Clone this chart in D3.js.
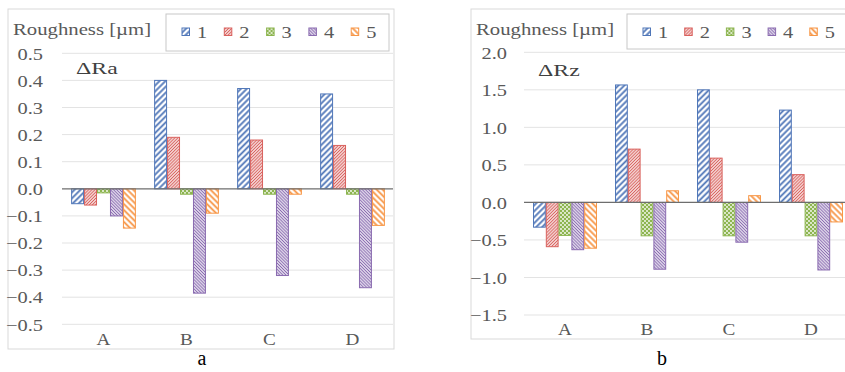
<!DOCTYPE html>
<html>
<head>
<meta charset="utf-8">
<script src="https://cdn.jsdelivr.net/npm/d3@7"></script>
<style>
  body { margin: 0; background: #fff; }
  svg text { font-family: "Liberation Serif", "Times New Roman", serif; }
</style>
</head>
<body>
<svg id="fig" width="845" height="372" font-family="Liberation Serif"></svg>
<script>
const categories = ["A", "B", "C", "D"];
const seriesNames = ["1", "2", "3", "4", "5"];

// ΔRa per series (values for A..D)
const ra1 = [-0.055, 0.40, 0.37, 0.35];
const ra2 = [-0.06, 0.19, 0.18, 0.16];
const ra3 = [-0.015, -0.02, -0.02, -0.02];
const ra4 = [-0.10, -0.385, -0.32, -0.365];
const ra5 = [-0.145, -0.09, -0.02, -0.135];

// ΔRz per series
const rz1 = [-0.33, 1.565, 1.50, 1.23];
const rz2 = [-0.59, 0.71, 0.59, 0.37];
const rz3 = [-0.44, -0.445, -0.445, -0.445];
const rz4 = [-0.63, -0.89, -0.53, -0.90];
const rz5 = [-0.61, 0.155, 0.09, -0.26];

const raTicks = [-0.5, -0.4, -0.3, -0.2, -0.1, 0, 0.1, 0.2, 0.3, 0.4, 0.5];
const rzTicks = [-1.5, -1.0, -0.5, 0, 0.5, 1.0, 1.5, 2.0];

const colors = ["#4f76b8", "#d9625e", "#8db550", "#8a6bb0", "#f79646"];
const SX = 1.2; // the figure text is stretched sideways

const svg = d3.select("#fig");
svg.append("rect").attr("width", 845).attr("height", 372).attr("fill", "#fff");

// hatch patterns
const defs = svg.append("defs");
function hatch(id, color, size, width, angle) {
  const p = defs.append("pattern")
    .attr("id", id)
    .attr("patternUnits", "userSpaceOnUse")
    .attr("width", size).attr("height", size)
    .attr("patternTransform", `rotate(${angle})`);
  p.append("rect").attr("width", size).attr("height", size).attr("fill", "#fff");
  p.append("line")
    .attr("x1", size / 2).attr("y1", 0).attr("x2", size / 2).attr("y2", size)
    .attr("stroke", color).attr("stroke-width", width);
}
hatch("p0", colors[0], 4.2, 1.8, 45);
hatch("p1", colors[1], 2.2, 1.2, 45);
hatch("p3", colors[3], 2.2, 1.2, -45);
hatch("p4", colors[4], 4.2, 1.8, -45);
const dots = defs.append("pattern")
  .attr("id", "p2")
  .attr("patternUnits", "userSpaceOnUse")
  .attr("width", 4).attr("height", 4);
dots.append("rect").attr("width", 4).attr("height", 4).attr("fill", colors[2]);
dots.append("circle").attr("cx", 1).attr("cy", 1).attr("r", 0.9).attr("fill", "#fff");
dots.append("circle").attr("cx", 3).attr("cy", 3).attr("r", 0.9).attr("fill", "#fff");

// text placed at (x,y) and stretched horizontally around its anchor
function label(parent, x, y, txt, size, sx, anchor, fill) {
  return parent.append("text")
    .attr("transform", `translate(${x},${y}) scale(${sx},1)`)
    .attr("text-anchor", anchor || "start")
    .attr("fill", fill || "#595959")
    .style("font-size", size + "px")
    .text(txt);
}

function drawChart(cfg) {
  const g = svg.append("g");

  // outer frame
  g.append("rect")
    .attr("x", cfg.box[0]).attr("y", cfg.box[1])
    .attr("width", cfg.box[2] - cfg.box[0]).attr("height", cfg.box[3] - cfg.box[1])
    .attr("fill", "none").attr("stroke", "#d9d9d9");

  const x0 = d3.scaleBand().domain(categories)
    .range([cfg.left, cfg.right])
    .paddingInner(0.22).paddingOuter(0.11);
  const x1 = d3.scaleBand().domain(seriesNames).range([0, x0.bandwidth()]);
  const y = d3.scaleLinear().domain(cfg.domain).range([cfg.bottom, cfg.top]);

  // grid
  g.append("g").selectAll("line")
    .data(cfg.ticks.filter(t => t !== 0))
    .join("line")
    .attr("x1", cfg.left).attr("x2", cfg.gridEnd)
    .attr("y1", d => y(d)).attr("y2", d => y(d))
    .attr("stroke", "#e3e3e3");

  const pad = cfg.left - cfg.tickRight;
  const yAxis = g.append("g")
    .attr("transform", `translate(${cfg.left},0)`)
    .call(d3.axisLeft(y).tickValues(cfg.ticks).tickFormat(d3.format(".1f")).tickSize(0));
  yAxis.attr("font-family", null).attr("font-size", null);
  yAxis.select(".domain").remove();
  yAxis.selectAll("text")
    .attr("x", null)
    .attr("dy", "0.34em")
    .attr("transform", `translate(${-pad},0) scale(${SX},1)`)
    .attr("fill", "#595959").style("font-size", "17px");

  // bars
  const data = categories.flatMap((c, i) =>
    cfg.series.map((s, k) => ({ cat: c, key: seriesNames[k], k, v: s[i] })));
  g.append("g").selectAll("rect")
    .data(data)
    .join("rect")
    .attr("x", d => x0(d.cat) + x1(d.key) + 0.5)
    .attr("y", d => y(Math.max(0, d.v)))
    .attr("width", x1.bandwidth() - 1)
    .attr("height", d => Math.abs(y(d.v) - y(0)))
    .attr("fill", d => `url(#p${d.k})`)
    .attr("stroke", d => colors[d.k])
    .attr("stroke-width", 1);

  // zero line
  g.append("line")
    .attr("x1", cfg.left).attr("x2", cfg.gridEnd)
    .attr("y1", y(0)).attr("y2", y(0))
    .attr("stroke", "#6e6e6e").attr("stroke-width", 1.2);

  // category labels
  categories.forEach(c => label(g, x0(c) + x0.bandwidth() / 2, cfg.catY, c, 16, SX, "middle"));

  // unit label and panel label
  label(g, cfg.unitX, 35, "Roughness [µm]", 17, 1.22);
  label(g, cfg.tagX, cfg.tagY, cfg.tag, 17, 1.4, "start", "#404040");

  // legend
  g.append("rect")
    .attr("x", cfg.legend[0]).attr("y", 14)
    .attr("width", cfg.legend[1] - cfg.legend[0]).attr("height", cfg.legendH)
    .attr("fill", "#fff").attr("stroke", "#c8c8c8");
  const items = g.append("g").selectAll("g")
    .data(seriesNames)
    .join("g")
    .attr("transform", (d, i) => `translate(${cfg.legendX + i * cfg.legendStep},0)`);
  items.append("rect")
    .attr("x", 0).attr("y", 28).attr("width", 7.5).attr("height", 7.5)
    .attr("fill", (d, i) => `url(#p${i})`)
    .attr("stroke", (d, i) => colors[i]);
  items.each(function(d) { label(d3.select(this), 15, 37.5, d, 17, SX); });

  // caption
  label(svg, cfg.capX, 365, cfg.caption, 20, 1, "middle", "#000");
}

drawChart({
  box: [8, 9, 394, 349],
  left: 62, right: 394, gridEnd: 393, top: 53.3, bottom: 324.3,
  domain: [-0.5, 0.5], ticks: raTicks, tickRight: 43,
  series: [ra1, ra2, ra3, ra4, ra5],
  catY: 345, unitX: 13, tag: "ΔRa", tagX: 76, tagY: 74,
  legend: [166, 389], legendH: 37, legendX: 182, legendStep: 42.3,
  caption: "a", capX: 202
});

drawChart({
  box: [471, 9, 870, 339],
  left: 524, right: 852, gridEnd: 860, top: 52.3, bottom: 315,
  domain: [-1.5, 2.0], ticks: rzTicks, tickRight: 507,
  series: [rz1, rz2, rz3, rz4, rz5],
  catY: 335, unitX: 476, tag: "ΔRz", tagX: 538, tagY: 76,
  legend: [627, 870], legendH: 35, legendX: 643, legendStep: 41.7,
  caption: "b", capX: 662
});
</script>
</body>
</html>
